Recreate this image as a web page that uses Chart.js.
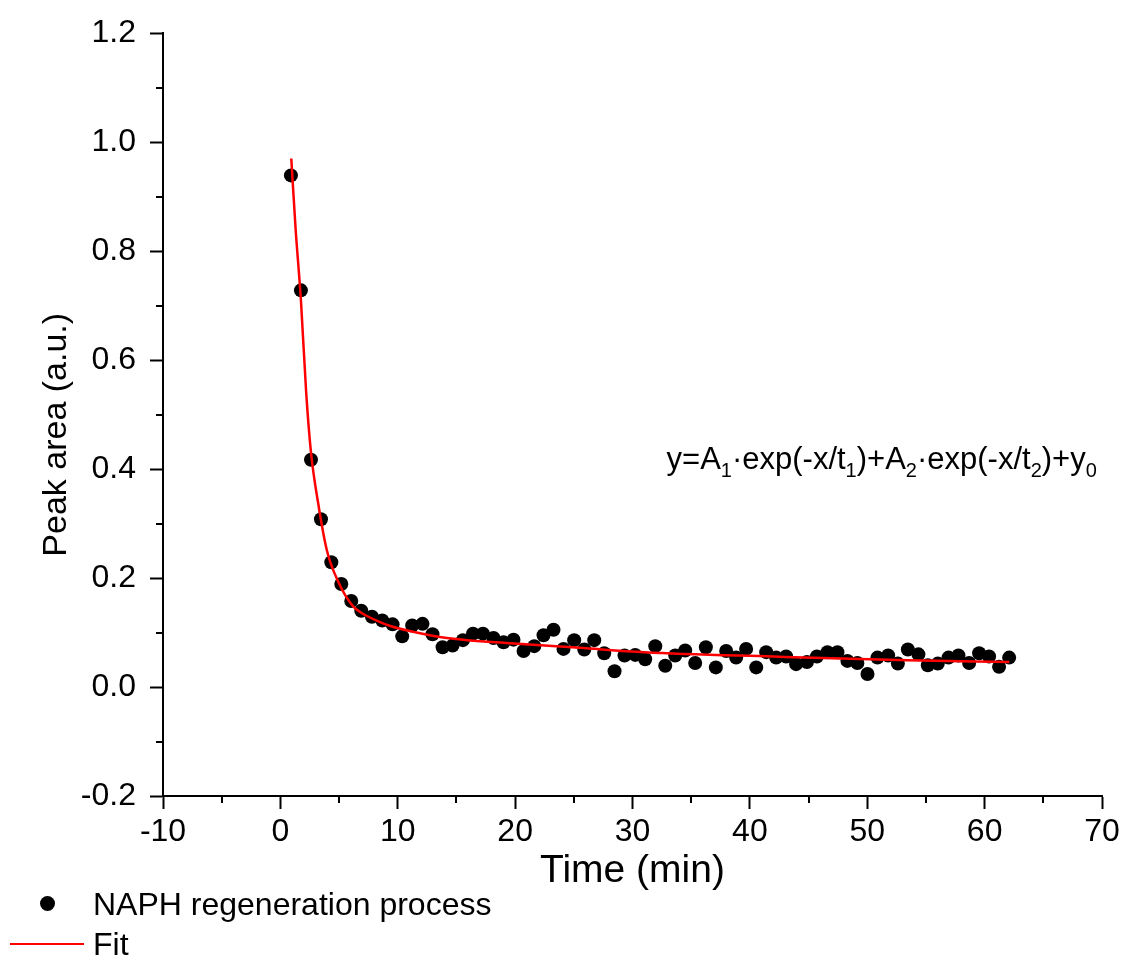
<!DOCTYPE html>
<html><head><meta charset="utf-8">
<script src="https://cdn.jsdelivr.net/npm/chart.js@4.4.1/dist/chart.umd.min.js"></script>
<style>
html,body{margin:0;padding:0;background:#fff;}
#wrap{position:relative;width:1131px;height:955px;overflow:hidden;}
#legend{position:absolute;left:0;top:0;width:1131px;height:955px;pointer-events:none;font-family:'Liberation Sans',Arial,sans-serif;font-size:32px;color:#000;}
.lt{position:absolute;left:93px;height:36px;line-height:36px;white-space:nowrap;}
</style></head>
<body><div id="wrap"><canvas id="c" width="1131" height="955"></canvas><div id="legend"></div></div>
<script>
// ---- data ----
const timeMin = [0.90,1.75,2.61,3.46,4.34,5.19,6.04,6.89,7.80,8.68,9.56,10.38,11.23,12.11,12.96,13.82,14.67,15.55,16.41,17.26,18.16,19.01,19.86,20.72,21.63,22.42,23.27,24.12,25.03,25.89,26.74,27.59,28.47,29.32,30.23,31.08,31.94,32.79,33.64,34.49,35.34,36.25,37.10,37.98,38.83,39.68,40.54,41.39,42.24,43.09,43.94,44.86,45.71,46.61,47.46,48.31,49.16,50.02,50.87,51.78,52.61,53.46,54.36,55.16,56.01,56.92,57.77,58.68,59.53,60.38,61.23,62.09];
const peakArea = [0.939,0.728,0.417,0.308,0.229,0.189,0.158,0.140,0.129,0.122,0.115,0.093,0.113,0.116,0.097,0.073,0.076,0.086,0.098,0.098,0.090,0.082,0.087,0.066,0.075,0.095,0.105,0.070,0.086,0.069,0.086,0.062,0.029,0.058,0.059,0.051,0.075,0.039,0.058,0.067,0.044,0.073,0.036,0.066,0.054,0.070,0.036,0.064,0.054,0.056,0.042,0.046,0.056,0.064,0.064,0.048,0.044,0.024,0.054,0.058,0.043,0.069,0.060,0.040,0.043,0.054,0.058,0.044,0.062,0.056,0.037,0.054];
const fitTime = [0.93,1.3,1.75,2.2,2.61,3.2,3.97,5.0,6.2,7.0,8.2,9.5,11.0,14.2,19.9,25.5,31.0,42.0,53.4,62.1];
const fitArea = [0.97,0.84,0.71,0.54,0.43,0.34,0.25,0.19,0.148,0.135,0.122,0.111,0.103,0.090,0.080,0.072,0.064,0.056,0.049,0.046];
const xTickValues = [-10,0,10,20,30,40,50,60,70];
const xMinorTicks = [-5,5,15,25,35,45,55,65];
const yTickValues = [-0.2,0.0,0.2,0.4,0.6,0.8,1.0,1.2];
const yMinorTicks = [-0.1,0.1,0.3,0.5,0.7,0.9,1.1];
const seriesLabels = ['NAPH regeneration process','Fit'];
const xTitle = 'Time (min)';
const yTitle = 'Peak area (a.u.)';
const equationParts = [['y=A',0],['1',1],['·exp(-x/t',0],['1',1],[')+A',0],['2',1],['·exp(-x/t',0],['2',1],[')+y',0],['0',1]];
const equationAt = [32.9, 0.40];
const yTitleAt = 0.463;

const FONT = "'Liberation Sans', Arial, sans-serif";
Chart.defaults.font.family = FONT;
Chart.defaults.color = '#000';

const extras = {
  id: 'extras',
  afterDraw(chart) {
    const {ctx, chartArea: a, scales: {x, y}} = chart;
    ctx.save();
    ctx.strokeStyle = '#000'; ctx.lineWidth = 2;
    ctx.beginPath();
    xMinorTicks.forEach(v => { const p = Math.round(x.getPixelForValue(v)); ctx.moveTo(p, a.bottom); ctx.lineTo(p, a.bottom + 7); });
    yMinorTicks.forEach(v => { const p = Math.round(y.getPixelForValue(v)); ctx.moveTo(a.left, p); ctx.lineTo(a.left - 7, p); });
    ctx.stroke();
    // y axis title (drawn here to match the reference's offset along the axis)
    ctx.save();
    ctx.translate(57, y.getPixelForValue(yTitleAt));
    ctx.rotate(-Math.PI / 2);
    ctx.font = '34px ' + FONT; ctx.fillStyle = '#000';
    ctx.textAlign = 'center'; ctx.textBaseline = 'middle';
    ctx.fillText(yTitle, 0, 0);
    ctx.restore();
    // equation
    let px = x.getPixelForValue(equationAt[0]);
    const py = y.getPixelForValue(equationAt[1]);
    ctx.fillStyle = '#000'; ctx.textAlign = 'left'; ctx.textBaseline = 'alphabetic';
    equationParts.forEach(([t, sub]) => {
      ctx.font = (sub ? '20px ' : '31px ') + FONT;
      ctx.fillText(t, px, py + (sub ? 8 : 0));
      px += ctx.measureText(t).width;
    });
    ctx.restore();
  }
};

const chart = new Chart(document.getElementById('c'), {
  type: 'scatter',
  data: {
    datasets: [
      { label: seriesLabels[0], data: timeMin.map((t, i) => ({x: t, y: peakArea[i]})),
        pointRadius: 7, pointHoverRadius: 7, backgroundColor: '#000', borderWidth: 0, order: 2 },
      { type: 'line', label: seriesLabels[1], data: fitTime.map((t, i) => ({x: t, y: fitArea[i]})),
        showLine: true, pointRadius: 0, borderColor: '#ff0000', borderWidth: 2.5, fill: false,
        cubicInterpolationMode: 'monotone', order: 1 }
    ]
  },
  options: {
    responsive: false, animation: false, devicePixelRatio: 1,
    layout: { padding: { top: 32, right: 29, left: 0, bottom: 0 } },
    plugins: { legend: { display: false }, tooltip: { enabled: false } },
    scales: {
      x: {
        type: 'linear', min: -10, max: 70,
        afterBuildTicks: s => { s.ticks = xTickValues.map(v => ({value: v})); },
        afterFit: s => { s.height = 159; },
        ticks: { font: { size: 32 }, padding: 4, color: '#000', maxRotation: 0, callback: v => String(v) },
        grid: { display: true, drawOnChartArea: false, drawTicks: true, tickLength: 13, tickWidth: 2, tickColor: '#000' },
        border: { display: true, width: 2, color: '#000' },
        title: { display: true, text: xTitle, font: { size: 39 }, color: '#000', padding: { bottom: 60 } }
      },
      y: {
        type: 'linear', min: -0.2, max: 1.2,
        afterBuildTicks: s => { s.ticks = yTickValues.map(v => ({value: v})); },
        afterFit: s => { s.width = 163; },
        ticks: { font: { size: 32 }, padding: 14, color: '#000', callback: v => v.toFixed(1) },
        grid: { display: true, drawOnChartArea: false, drawTicks: true, tickLength: 13, tickWidth: 2, tickColor: '#000' },
        border: { display: true, width: 2, color: '#000' },
        title: { display: false, text: yTitle }
      }
    }
  },
  plugins: [extras]
});

// HTML legend built from the datasets
const lg = document.getElementById('legend');
const ds = chart.data.datasets;
const dot = document.createElement('div');
dot.style.cssText = 'position:absolute;left:40px;top:896px;width:15px;height:15px;border-radius:50%;background:' + ds[0].backgroundColor;
lg.appendChild(dot);
const t1 = document.createElement('div'); t1.className = 'lt'; t1.style.top = '886px'; t1.textContent = ds[0].label; lg.appendChild(t1);
const ln = document.createElement('div');
ln.style.cssText = 'position:absolute;left:10px;top:943px;width:74px;height:2px;background:' + ds[1].borderColor;
lg.appendChild(ln);
const t2 = document.createElement('div'); t2.className = 'lt'; t2.style.top = '926px'; t2.textContent = ds[1].label; lg.appendChild(t2);
</script>
</body></html>
